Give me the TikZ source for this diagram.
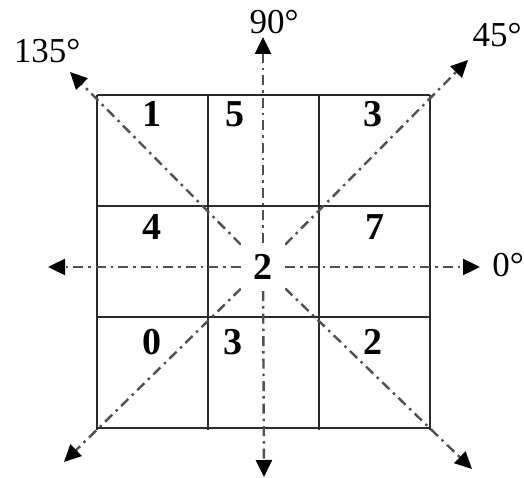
\documentclass[tikz,border=0pt]{standalone}
\usepackage{fontspec}
\setmainfont{Liberation Serif}
\usetikzlibrary{arrows.meta}
\definecolor{axisgray}{HTML}{505050}
\definecolor{cellline}{HTML}{2a2a2a}
\tikzset{
  axisline/.style={axisgray, line width=2.4pt, dash pattern=on 10pt off 5pt on 2.5pt off 5pt,
    -{Triangle[length=17pt,width=16pt,fill=black,color=black]}},
  cellnum/.style={font=\fontsize{38}{40}\selectfont\bfseries, inner sep=0pt},
  anglelabel/.style={font=\fontsize{35}{38}\selectfont, inner sep=0pt}
}
\begin{document}
\begin{tikzpicture}[x=1pt,y=-1pt]
    \useasboundingbox (0,0) rectangle (524,478);

    % Grid 3x3
    \foreach \k in {97,208,319,430} {
        \draw[cellline, line width=2.2pt] (\k,95) -- (\k,430);
        \draw[cellline, line width=2.2pt] (97,\k-2) -- (430,\k-2);
    }

    % Centre cell
    \node[cellnum, fill=white, minimum width=44pt, minimum height=48pt] (c) at (263,267) {2};

    % Arrow ends
    \coordinate (e) at (480,267);
    \coordinate (w) at (48,267);
    \coordinate (n) at (263,37);
    \coordinate (s) at (264,477);
    \coordinate (ne) at (468,60);
    \coordinate (nw) at (70,72);
    \coordinate (sw) at (64,462);
    \coordinate (se) at (472,469);

    % Directions
    \foreach \d in {e,w,n,s,ne,nw,sw,se}
        \draw[axisline] (c) -- (\d);

    % Redraw centre over lines
    \node[cellnum, fill=white, minimum width=44pt, minimum height=48pt] at (c) {2};

    % Angle labels
    \node[anglelabel] (l0) at (508,265) {0°};
    \node[anglelabel] (l45) at (497,35) {45°};
    \node[anglelabel] (l90) at (274,22) {90°};
    \node[anglelabel] (l135) at (47,51) {135°};

    % Cell values
    \node[cellnum] (c11) at (152,114) {1};
    \node[cellnum] (c12) at (235,114) {5};
    \node[cellnum] (c13) at (373,114) {3};
    \node[cellnum] (c21) at (152,227) {4};
    \node[cellnum] (c23) at (375,227) {7};
    \node[cellnum] (c31) at (152,342) {0};
    \node[cellnum] (c32) at (233,342) {3};
    \node[cellnum] (c33) at (373,342) {2};
\end{tikzpicture}
\end{document}
